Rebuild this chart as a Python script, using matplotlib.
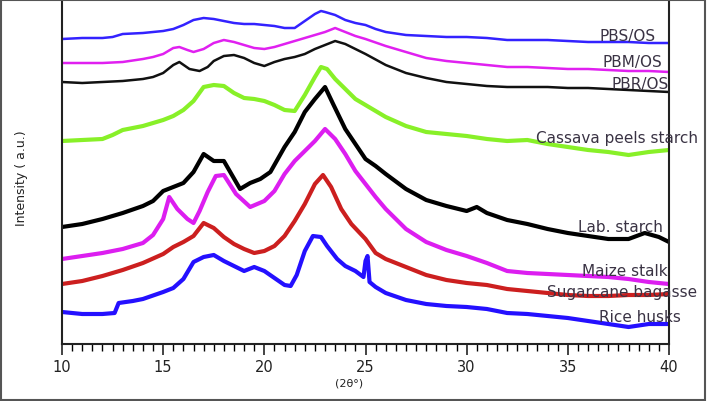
import matplotlib
matplotlib.use("Agg")
import matplotlib.pyplot as plt
from matplotlib.patches import Rectangle
from matplotlib.ticker import MultipleLocator

plt.rcParams['font.family'] = ['DejaVu Sans']

# ---- data (2theta in degrees, intensity in a.u.) ----
pbs_x = [10,11,12,12.5,13,14,15,15.5,16,16.5,17,17.5,18,18.5,19,19.5,20,20.5,21,21.5,22,22.5,22.8,23,23.5,24,24.5,25,25.5,26,27,28,29,30,31,32,33,34,35,36,37,38,39,40]
pbs_y = [305,306,306,307,310,311,313,315,319,324,326,325,323,321,320,320,319,318,316,316,323,330,333,332,329,324,321,319,315,312,309,308,307,307,306,304,304,304,303,302,302,302,301,301]

pbm_x = [10,11,12,13,14,14.5,15,15.5,15.8,16.2,16.5,17,17.5,18,18.5,19,19.5,20,20.5,21,21.5,22,22.5,23,23.5,24,24.5,25,26,27,28,29,30,31,32,33,34,35,36,37,38,39,40]
pbm_y = [281,281,281,282,285,287,290,296,297,294,292,295,301,304,302,299,296,295,297,300,303,306,309,312,316,312,308,305,298,292,286,283,281,279,277,277,276,275,275,274,273,273,272]

pbr_x = [10,11,12,13,14,14.5,15,15.5,15.8,16.3,16.8,17.2,17.5,18,18.5,19,19.5,20,20.5,21,21.5,22,22.5,23,23.5,24,24.5,25,26,27,28,29,30,31,32,33,34,35,36,37,38,39,40]
pbr_y = [262,261,262,263,265,267,271,279,282,275,273,277,283,288,289,286,281,278,282,285,287,290,295,299,303,300,295,290,279,271,266,262,260,258,257,257,257,256,256,255,254,253,252]

cassava_x = [10,11,12,12.5,13,14,15,15.5,16,16.5,17,17.5,18,18.5,19,19.5,20,20.5,21,21.5,22,22.5,22.8,23.1,23.5,24,24.5,25,25.5,26,27,28,29,30,31,32,33,34,35,36,37,38,39,40]
cassava_y = [203,204,205,209,214,218,224,228,234,243,257,259,258,251,246,245,243,239,234,233,249,267,277,275,265,255,245,239,233,227,218,212,210,208,205,203,204,200,197,194,192,189,192,194]

lab_x = [10,11,12,13,14,14.5,15,15.5,16,16.5,17,17.5,18,18.8,19.3,19.8,20.3,21,21.5,22,22.5,23,23.4,24,24.5,25,25.5,26,27,28,29,30,30.5,31,32,33,34,35,36,37,38,38.8,39.5,40]
lab_y = [117,120,125,131,138,143,153,157,161,172,190,183,183,155,161,165,172,197,212,232,245,257,240,215,200,185,178,170,155,144,138,133,137,131,124,120,115,111,108,105,105,111,107,102]

maize_x = [10,11,12,13,14,14.5,15,15.3,15.7,16.2,16.5,16.8,17.2,17.6,18,18.6,19.3,20,20.5,21,21.5,22,22.5,23,23.5,24,24.5,25,25.5,26,27,28,29,30,31,32,33,34,35,36,37,38,39,40]
maize_y = [85,88,91,95,101,109,125,147,135,125,121,133,152,168,169,150,137,143,153,170,183,193,203,215,205,190,173,160,147,135,115,102,94,88,81,73,71,70,69,68,67,65,62,60]

sugar_x = [10,11,12,13,14,15,15.5,16,16.5,17,17.5,18,18.5,19,19.5,20,20.5,21,21.5,22,22.5,22.9,23.3,23.8,24.3,25,25.5,26,27,28,29,30,31,32,33,34,35,36,37,38,39,40]
sugar_y = [60,63,68,74,81,90,97,102,108,121,116,107,100,95,91,93,98,108,123,140,160,169,157,135,120,105,91,85,77,69,64,61,59,55,53,51,49,48,48,49,49,50]

rice_x = [10,11,12,12.6,12.8,13.5,14,15,15.5,16,16.5,17,17.5,18,18.5,19,19.5,20,20.5,21,21.3,21.6,22,22.4,22.8,23.1,23.6,24,24.5,24.9,25.0,25.1,25.2,25.5,26,27,28,29,30,31,32,33,34,35,36,37,38,39,40]
rice_y = [32,30,30,31,41,43,45,52,56,65,82,87,89,83,78,73,77,73,66,59,58,69,93,108,107,98,85,78,73,67,83,88,62,57,51,44,40,38,37,35,31,30,28,26,23,20,17,20,20]

labels = ["PBS/OS", "PBM/OS", "PBR/OS", "Cassava peels starch",
          "Lab. starch", "Maize stalk", "Sugarcane bagasse", "Rice husks"]
label_x = [37.93, 38.2, 38.57, 37.41, 37.61, 37.8, 37.68, 38.57]
label_y = [309, 282, 261, 206, 118, 74, 52, 28]

series = [
    (pbs_x, pbs_y, '#3322ff', 1.8),
    (pbm_x, pbm_y, '#e020f0', 1.8),
    (pbr_x, pbr_y, '#111111', 1.8),
    (cassava_x, cassava_y, '#88f028', 3.0),
    (lab_x, lab_y, '#000000', 3.0),
    (maize_x, maize_y, '#dc1ef0', 3.0),
    (sugar_x, sugar_y, '#cc1f1f', 3.0),
    (rice_x, rice_y, '#2410ff', 3.0),
]

fig = plt.figure(figsize=(7.07, 4.02), dpi=100)
ax = fig.add_axes([62/707, 57/402, (669-62)/707, (399-57)/402])

for xs, ys, c, lw in series:
    ax.plot(xs, ys, color=c, lw=lw, solid_joinstyle='round')

for t, lx, ly in zip(labels, label_x, label_y):
    ax.text(lx, ly, t, ha='center', va='center', fontsize=11,
            color='#3a3344', clip_on=False)

ax.set_xlim(10, 40)
ax.set_ylim(0, 342)
ax.xaxis.set_major_locator(MultipleLocator(5))
ax.xaxis.set_minor_locator(MultipleLocator(0.5))
ax.set_yticks([])
ax.tick_params(axis='x', which='major', direction='out', length=8, width=1.2,
               labelsize=10.5, colors='#222222', pad=3)
ax.tick_params(axis='x', which='minor', direction='out', length=5, width=1.0)
ax.spines['top'].set_visible(False)
for s in ['left', 'right', 'bottom']:
    ax.spines[s].set_linewidth(1.5)
    ax.spines[s].set_color('#222222')

fig.text(349/707, 1 - 384/402, "(2θ°)", ha='center', va='center',
         fontsize=8, color='#222222')
fig.text(22/707, 1 - 178/402, "Intensity ( a.u.)", ha='center', va='center',
         rotation=90, fontsize=9, color='#222222')

fig.patches.append(Rectangle((0.002, 0.003), 0.995, 0.994, transform=fig.transFigure,
                             fill=False, edgecolor='#555555', lw=1.5))

fig.savefig("out.png", dpi=100)
